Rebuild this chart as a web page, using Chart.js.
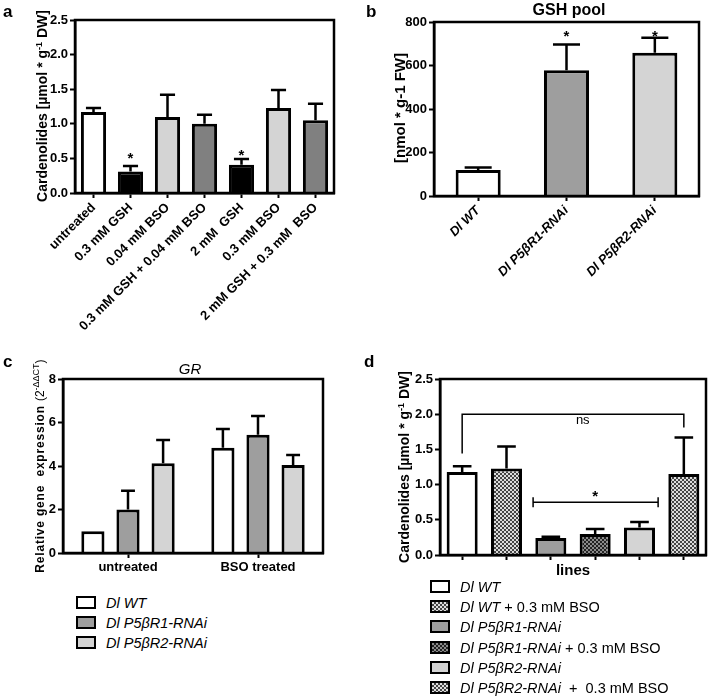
<!DOCTYPE html>
<html>
<head>
<meta charset="utf-8">
<script src="https://cdn.jsdelivr.net/npm/chart.js@4.4.1/dist/chart.umd.min.js"></script>
<style>
    body { margin: 0; background: #fff; font-family: "Liberation Sans", Arial, sans-serif; }
    #fig { position: relative; width: 708px; height: 698px; overflow: hidden; }
    canvas { position: absolute; }
    .lbl { position: absolute; white-space: nowrap; color: #000; }
    .panel { font-weight: bold; font-size: 17px; line-height: 17px; }
    .ytitle { font-weight: bold; font-size: 14px; transform: translate(-50%, -50%) rotate(-90deg); }
    .ytitle sup { font-size: 9px; }
    .ptitle { transform: translate(-50%, -50%); font-size: 13px; }
    .legend-row { position: absolute; height: 16px; line-height: 16px; white-space: nowrap; font-size: 14.5px; }
    .legend-box { position: absolute; left: 0; top: 1px; width: 16px; height: 9px; border: 2px solid #000; }
    .legend-txt { position: absolute; left: 30px; top: 0; }
</style>
</head>
<body>
<div id="fig">
    <canvas id="ca" width="354" height="345" style="left:0;top:0"></canvas>
    <canvas id="cb" width="354" height="300" style="left:354px;top:0"></canvas>
    <canvas id="cc" width="354" height="225" style="left:0;top:355px"></canvas>
    <canvas id="cd" width="354" height="225" style="left:354px;top:355px"></canvas>

    <div class="lbl panel" style="left:3px;top:3px">a</div>
    <div class="lbl panel" style="left:366px;top:3px">b</div>
    <div class="lbl panel" style="left:3px;top:353px">c</div>
    <div class="lbl panel" style="left:364px;top:353px">d</div>

    <div class="lbl ptitle" style="left:569px;top:10px;font-weight:bold;font-size:16px">GSH pool</div>
    <div class="lbl ptitle" style="left:190px;top:368px;font-style:italic;font-size:15px">GR</div>

    <div class="lbl ytitle" style="left:42px;top:106px">Cardenolides [µmol * g<sup>-1</sup> DW]</div>
    <div class="lbl ytitle" style="left:399px;top:108px;font-size:15px">[nmol * g-1 FW]</div>
    <div class="lbl ytitle" style="left:39px;top:466px;font-size:12px;letter-spacing:0.8px">Relative gene&nbsp; expression <span style="letter-spacing:0;font-weight:normal">(2<sup>-ΔΔCT</sup>)</span></div>
    <div class="lbl ytitle" style="left:404px;top:467px">Cardenolides [µmol * g<sup>-1</sup> DW]</div>
</div>
<script>
// ---- panel a: cardenolides after GSH / BSO treatment
const aLabels = ['untreated', '0.3 mM GSH', '0.04 mM BSO', '0.3 mM GSH + 0.04 mM BSO', '2 mM  GSH', '0.3 mM BSO', '2 mM GSH + 0.3 mM  BSO'];
const aValues = [1.17, 0.31, 1.10, 1.00, 0.41, 1.23, 1.05];
const aErrors = [0.06, 0.08, 0.32, 0.13, 0.08, 0.26, 0.24];
const aStars = [null, 0.55, null, null, 0.6, null, null];
const aColors = ['#ffffff', '#000000', '#d4d4d4', '#808080', '#000000', '#d4d4d4', '#808080'];

// ---- panel b: GSH pool
const bLabels = ['Dl WT', 'Dl P5βR1-RNAi', 'Dl P5βR2-RNAi'];
const bValues = [119, 578, 659];
const bErrors = [12, 119, 69];
const bStars = [null, 750, 750];
const bColors = ['#ffffff', '#9e9e9e', '#d4d4d4'];

// ---- panel c: GR expression
const cGroups = ['untreated', 'BSO treated'];
const cLines = ['Dl WT', 'Dl P5βR1-RNAi', 'Dl P5βR2-RNAi'];
const cWT = [1.0, 4.84];
const cWTErr = [0, 0.86];
const cR1 = [2.0, 5.44];
const cR1Err = [0.86, 0.86];
const cR2 = [4.13, 4.05];
const cR2Err = [1.07, 0.46];
const cColors = ['#ffffff', '#9e9e9e', '#d4d4d4'];

// ---- panel d: cardenolides per line
const dLines = ['Dl WT', 'Dl WT', 'Dl P5βR1-RNAi', 'Dl P5βR1-RNAi', 'Dl P5βR2-RNAi', 'Dl P5βR2-RNAi'];
const dTreat = ['', ' + 0.3 mM BSO', '', ' + 0.3 mM BSO', '', '  +  0.3 mM BSO'];
const dValues = [1.18, 1.23, 0.24, 0.30, 0.39, 1.15];
const dErrors = [0.08, 0.31, 0.02, 0.07, 0.08, 0.52];
const dFills = ['#ffffff', 'checker', '#9e9e9e', 'checkerDark', '#d4d4d4', 'checker'];

Chart.defaults.font.family = '"Liberation Sans", Arial, sans-serif';
Chart.defaults.color = '#000';

const FONT_TICK = { size: 13, weight: 'bold' };

// box around the plot area (GraphPad style)
const framePlugin = {
    id: 'frame',
    afterDraw(chart) {
        const { ctx, chartArea: a } = chart;
        ctx.save();
        ctx.strokeStyle = '#000';
        ctx.lineWidth = 2.5;
        ctx.strokeRect(a.left, a.top, a.right - a.left, a.bottom - a.top);
        ctx.restore();
    }
};

// upper error bars + significance stars
const errorBarPlugin = {
    id: 'errorBars',
    afterDatasetsDraw(chart) {
        const ctx = chart.ctx;
        const ys = chart.scales.y;
        chart.data.datasets.forEach((ds, i) => {
            const meta = chart.getDatasetMeta(i);
            meta.data.forEach((bar, j) => {
                const err = ds.errors ? ds.errors[j] : 0;
                ctx.save();
                ctx.strokeStyle = '#000';
                ctx.lineWidth = 2.5;
                if (err) {
                    const top = ys.getPixelForValue(ds.data[j] + err);
                    const cap = bar.width * 0.3;
                    ctx.beginPath();
                    ctx.moveTo(bar.x, bar.y);
                    ctx.lineTo(bar.x, top);
                    ctx.moveTo(bar.x - cap, top);
                    ctx.lineTo(bar.x + cap, top);
                    ctx.stroke();
                }
                if (ds.stars && ds.stars[j] != null) {
                    ctx.fillStyle = '#000';
                    ctx.font = 'bold 15px "Liberation Sans", Arial';
                    ctx.textAlign = 'center';
                    ctx.textBaseline = 'middle';
                    ctx.fillText('*', bar.x, ys.getPixelForValue(ds.stars[j]) + 4);
                }
                ctx.restore();
            });
        });
    }
};

function xAxis(height, extra) {
    return Object.assign({
        grid: { drawOnChartArea: false, drawTicks: true, tickLength: 5, tickColor: '#000', tickWidth: 2, offset: false },
        border: { display: true, color: '#000', width: 2.5 },
        ticks: { autoSkip: false, font: FONT_TICK, color: '#000', padding: 2 },
        afterFit: (s) => { s.height = height; }
    }, extra || {});
}

function yAxis(max, step, width, decimals) {
    return {
        min: 0, max: max,
        grid: { drawOnChartArea: false, drawTicks: true, tickLength: 5, tickColor: '#000', tickWidth: 2 },
        border: { display: true, color: '#000', width: 2.5 },
        ticks: { stepSize: step, font: FONT_TICK, color: '#000', padding: 2,
                 callback: (v) => v.toFixed(decimals) },
        afterFit: (s) => { s.width = width; }
    };
}

const baseOpts = {
    responsive: false,
    animation: false,
    plugins: { legend: { display: false }, tooltip: { enabled: false }, title: { display: false } }
};

// panel a
new Chart(document.getElementById('ca'), {
    type: 'bar',
    data: {
        labels: aLabels,
        datasets: [{
            data: aValues, errors: aErrors, stars: aStars,
            backgroundColor: aColors, borderColor: '#000', borderWidth: 3,
            barPercentage: 0.68, categoryPercentage: 1
        }]
    },
    options: Object.assign({}, baseOpts, {
        layout: { padding: { left: 35, right: 20, top: 20, bottom: 0 } },
        scales: {
            x: xAxis(152, { ticks: { autoSkip: false, font: FONT_TICK, color: '#000', padding: 2, minRotation: 45, maxRotation: 45 } }),
            y: yAxis(2.5, 0.5, 40, 1)
        }
    }),
    plugins: [framePlugin, errorBarPlugin]
});

// panel b
new Chart(document.getElementById('cb'), {
    type: 'bar',
    data: {
        labels: bLabels,
        datasets: [{
            data: bValues, errors: bErrors, stars: bStars,
            backgroundColor: bColors, borderColor: '#000', borderWidth: 3,
            barPercentage: 0.51, categoryPercentage: 1
        }]
    },
    options: Object.assign({}, baseOpts, {
        layout: { padding: { left: 40, right: 9, top: 22, bottom: 0 } },
        scales: {
            x: xAxis(104, { ticks: { autoSkip: false, color: '#000', padding: 2, minRotation: 45, maxRotation: 45,
                                     font: { size: 13, weight: 'bold', style: 'italic' } } }),
            y: yAxis(800, 200, 40, 0)
        }
    }),
    plugins: [framePlugin, errorBarPlugin]
});

// panel c
const cData = [[cWT, cWTErr], [cR1, cR1Err], [cR2, cR2Err]];
new Chart(document.getElementById('cc'), {
    type: 'bar',
    data: {
        labels: cGroups,
        datasets: cData.map((d, i) => ({
            label: cLines[i], data: d[0], errors: d[1],
            backgroundColor: cColors[i], borderColor: '#000', borderWidth: 3,
            barPercentage: 0.66, categoryPercentage: 0.81
        }))
    },
    options: Object.assign({}, baseOpts, {
        layout: { padding: { left: 33, right: 31, top: 24, bottom: 0 } },
        scales: {
            x: xAxis(27, { ticks: { autoSkip: false, color: '#000', padding: 2, font: { size: 13, weight: 'bold' } } }),
            y: yAxis(8, 2, 30, 0)
        }
    }),
    plugins: [framePlugin, errorBarPlugin]
});

// panel d
const dCanvas = document.getElementById('cd');
function checker(dark, light) {
    const tile = document.createElement('canvas');
    tile.width = 4; tile.height = 4;
    const g = tile.getContext('2d');
    g.fillStyle = light; g.fillRect(0, 0, 4, 4);
    g.fillStyle = dark; g.fillRect(0, 0, 2, 2); g.fillRect(2, 2, 2, 2);
    return dCanvas.getContext('2d').createPattern(tile, 'repeat');
}
const patterns = { checker: checker('#444', '#dcdcdc'), checkerDark: checker('#222', '#8a8a8a') };
const cssPatterns = {
    checker: 'repeating-conic-gradient(#444 0 25%, #dcdcdc 0 50%) 0 0 / 4px 4px',
    checkerDark: 'repeating-conic-gradient(#222 0 25%, #8a8a8a 0 50%) 0 0 / 4px 4px'
};

// significance brackets
const dBrackets = [
    { from: 0, to: 5, y: 2.0, leftEnd: 1.44, rightEnd: 1.81, text: 'ns', textX: 2.72, textY: 1.91, font: '13px' },
    { from: 1.6, to: 4.42, y: 0.75, leftEnd: 0.68, rightEnd: 0.68, text: '*', textX: 3.0, textY: 0.83, font: 'bold 15px', up: 0.82 }
];
const bracketPlugin = {
    id: 'brackets',
    afterDatasetsDraw(chart) {
        const { ctx } = chart;
        const xs = chart.scales.x, ys = chart.scales.y;
        dBrackets.forEach(b => {
            const x1 = xs.getPixelForValue(b.from), x2 = xs.getPixelForValue(b.to);
            const y = ys.getPixelForValue(b.y);
            ctx.save();
            ctx.strokeStyle = '#000';
            ctx.lineWidth = 1.5;
            ctx.beginPath();
            if (b.up != null) {
                ctx.moveTo(x1, ys.getPixelForValue(b.leftEnd)); ctx.lineTo(x1, ys.getPixelForValue(b.up));
                ctx.moveTo(x2, ys.getPixelForValue(b.rightEnd)); ctx.lineTo(x2, ys.getPixelForValue(b.up));
                ctx.moveTo(x1, y); ctx.lineTo(x2, y);
            } else {
                ctx.moveTo(x1, ys.getPixelForValue(b.leftEnd)); ctx.lineTo(x1, y);
                ctx.lineTo(x2, y); ctx.lineTo(x2, ys.getPixelForValue(b.rightEnd));
            }
            ctx.stroke();
            ctx.fillStyle = '#000';
            ctx.font = b.font + ' "Liberation Sans", Arial';
            ctx.textAlign = 'center';
            ctx.textBaseline = 'middle';
            ctx.fillText(b.text, xs.getPixelForValue(b.textX), ys.getPixelForValue(b.textY));
            ctx.restore();
        });
    }
};

new Chart(dCanvas, {
    type: 'bar',
    data: {
        labels: dLines.map((l, i) => l + dTreat[i]),
        datasets: [{
            data: dValues, errors: dErrors,
            backgroundColor: dFills.map(f => patterns[f] || f), borderColor: '#000', borderWidth: 3,
            barPercentage: 0.7, categoryPercentage: 1
        }]
    },
    options: Object.assign({}, baseOpts, {
        layout: { padding: { left: 46, right: 2, top: 24, bottom: 0 } },
        scales: {
            x: xAxis(25, {
                ticks: { autoSkip: false, display: true, callback: () => '' },
                title: { display: true, text: 'lines', font: { size: 15, weight: 'bold' }, padding: { top: 0, bottom: 0 } }
            }),
            y: yAxis(2.5, 0.5, 40, 1)
        }
    }),
    plugins: [framePlugin, errorBarPlugin, bracketPlugin]
});

// legends (panel c and d)
const fig = document.getElementById('fig');
function legendRow(left, centerY, fill, italicText, plainText) {
    const row = document.createElement('div');
    row.className = 'legend-row';
    row.style.left = left + 'px';
    row.style.top = (centerY - 8) + 'px';
    row.innerHTML = `<span class="legend-box" style="background:${fill}"></span>` +
        `<span class="legend-txt"><i>${italicText}</i>${plainText.replace(/ /g, '&nbsp;')}</span>`;
    fig.appendChild(row);
}
cLines.forEach((l, i) => legendRow(76, 603 + i * 20, cColors[i], l, ''));
dLines.forEach((l, i) => legendRow(430, 587 + i * 20.2, cssPatterns[dFills[i]] || dFills[i], l, dTreat[i]));
</script>
</body>
</html>
